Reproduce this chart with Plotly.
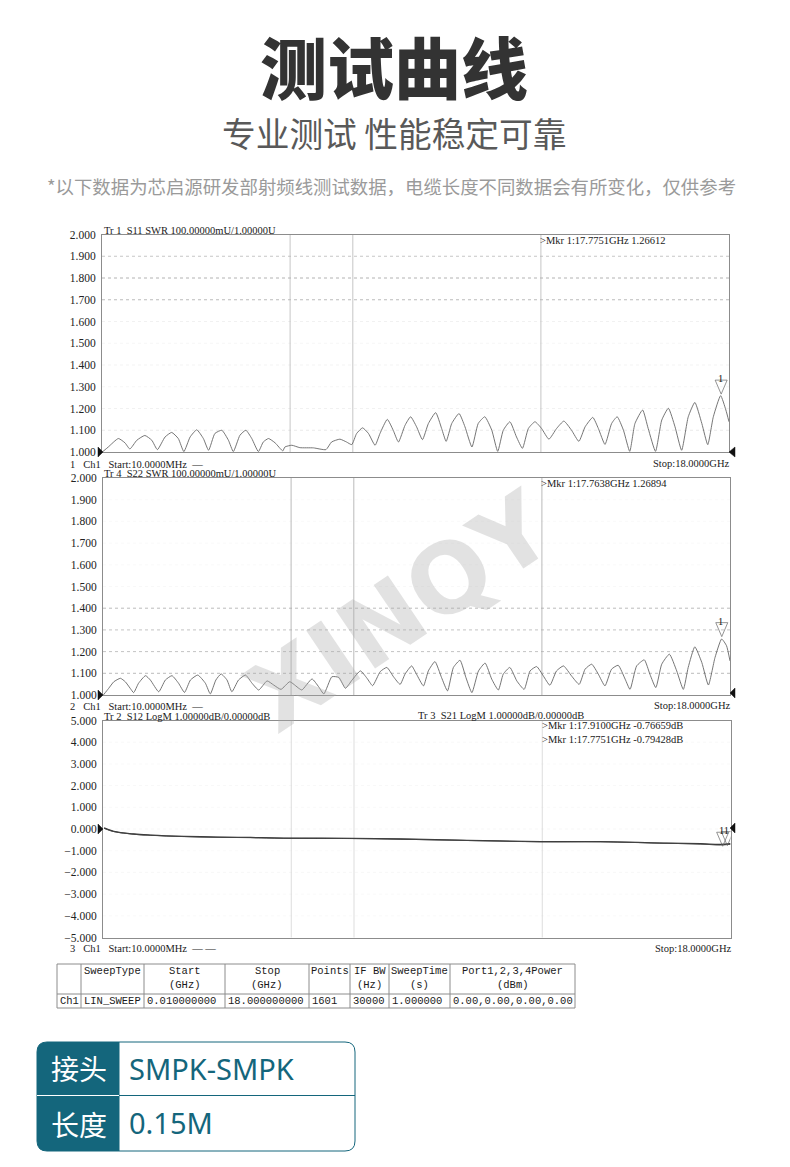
import plotly.graph_objects as go

W = 790
H = 1167

# traces
s11_ghz = [0.01,0.18,0.47,0.66,0.80,1.00,1.23,1.43,1.59,1.81,2.00,2.19,2.35,2.53,2.72,2.91,3.06,3.24,3.44,3.63,3.77,3.96,4.13,4.30,4.49,4.63,4.78,4.97,5.19,5.25,5.45,5.68,6.07,6.43,6.59,6.83,7.02,7.17,7.31,7.48,7.65,7.84,7.98,8.19,8.36,8.51,
           8.70,8.86,9.03,9.20,9.37,9.58,9.75,9.88,10.04,10.25,10.42,10.62,10.80,10.99,11.19,11.36,11.52,11.71,11.90,12.07,12.24,12.43,12.62,12.83,13.05,13.26,13.48,13.69,13.87,14.09,14.25,14.44,14.63,14.79,14.97,15.15,15.30,15.52,15.68,15.89,16.07,16.26,16.45,16.64,16.83,17.02,17.22,17.39,17.55,17.76,17.91,18.0]
s11_swr = [1.0,1.023,1.062,1.042,1.014,1.054,1.076,1.054,1.011,1.069,1.090,1.062,1.002,1.069,1.102,1.062,1.008,1.085,1.100,1.054,1.002,1.077,1.100,1.062,1.002,1.046,1.062,1.042,1.005,1.023,1.031,1.020,1.019,1.011,1.046,1.059,1.046,1.034,1.085,1.111,1.085,1.031,1.085,1.150,1.100,1.046,
           1.123,1.162,1.116,1.057,1.131,1.181,1.108,1.049,1.131,1.177,1.116,1.023,1.131,1.162,1.100,1.003,1.100,1.139,1.069,1.017,1.108,1.139,1.108,1.059,1.108,1.142,1.100,1.049,1.116,1.159,1.108,1.035,1.131,1.162,1.100,1.003,1.131,1.193,1.108,1.003,1.147,1.201,1.116,1.008,1.162,1.228,1.131,1.034,1.162,1.259,1.193,1.139]

s22_ghz = [0.01,0.16,0.31,0.50,0.64,0.78,0.88,1.02,1.22,1.36,1.60,1.79,1.98,2.17,2.34,2.51,2.72,2.94,3.08,3.24,3.39,3.56,3.70,3.89,4.09,4.28,4.47,4.71,4.90,5.11,5.36,5.62,5.71,6.00,6.19,6.34,6.57,6.77,6.96,7.15,7.39,7.58,7.74,7.96,8.15,8.34,
           8.53,8.67,8.86,9.00,9.20,9.34,9.53,9.72,9.89,10.06,10.25,10.42,10.59,10.78,10.97,11.16,11.35,11.49,11.68,11.88,12.09,12.26,12.45,12.64,12.83,13.02,13.22,13.45,13.67,13.84,14.03,14.22,14.41,14.60,14.79,14.99,15.13,15.32,15.54,15.70,15.87,16.04,16.26,16.47,16.66,16.80,16.99,17.19,17.38,17.57,17.76,17.90,18.0]
s22_swr = [1.0,1.03,1.061,1.077,1.061,1.031,1.011,1.054,1.089,1.069,1.015,1.069,1.089,1.054,1.012,1.069,1.092,1.054,1.005,1.069,1.097,1.069,1.015,1.069,1.092,1.054,1.023,1.065,1.046,1.026,1.061,1.031,1.023,1.074,1.038,1.005,1.084,1.081,1.031,1.069,1.111,1.077,1.043,1.108,1.127,1.084,
           1.049,1.096,1.134,1.096,1.042,1.111,1.154,1.080,1.019,1.127,1.160,1.080,1.011,1.111,1.147,1.073,1.023,1.096,1.127,1.065,1.026,1.111,1.131,1.088,1.045,1.111,1.134,1.088,1.049,1.119,1.142,1.096,1.042,1.119,1.137,1.073,1.026,1.134,1.162,1.096,1.034,1.142,1.188,1.111,1.026,1.127,1.222,1.150,1.046,1.173,1.258,1.227,1.157]

s21_ghz = [0.03,0.31,0.88,1.36,2.32,3.27,4.23,5.19,7.10,8.54,10.44,12.55,14.27,16.18,17.14,17.71,18.0]
s21_db = [0.05,-0.11,-0.23,-0.28,-0.34,-0.37,-0.39,-0.42,-0.43,-0.46,-0.52,-0.58,-0.58,-0.65,-0.68,-0.71,-0.68]
s12_db = [0.03,-0.12,-0.24,-0.29,-0.35,-0.38,-0.40,-0.43,-0.44,-0.47,-0.53,-0.59,-0.59,-0.66,-0.69,-0.74,-0.70]

swr_ticks = [2.0,1.9,1.8,1.7,1.6,1.5,1.4,1.3,1.2,1.1,1.0]
db_ticks = [5,4,3,2,1,0,-1,-2,-3,-4,-5]
vgrid_ghz = [5.4,7.2,12.6]

# how strong each printed gridline came out
grid1 = {1.9:"#b8b8b8",1.8:"#a0a0a0",1.7:"#aaaaaa",1.6:"#eeeeee",1.5:"#f4f4f4",1.4:"#f0f0f0",1.3:"#f4f4f4",1.2:"#eeeeee",1.1:"#e4e4e4"}
grid2 = {1.9:"#f8f8f8",1.8:"#f8f8f8",1.7:"#f8f8f8",1.6:"#f8f8f8",1.5:"#f6f6f6",1.4:"#aaaaaa",1.3:"#b4b4b4",1.2:"#b4b4b4",1.1:"#aaaaaa"}
grid3 = {4:"#f6f6f6",3:"#f8f8f8",2:"#f5f5f5",1:"#f8f8f8",0:"#f5f5f5",-1:"#f8f8f8",-2:"#f5f5f5",-3:"#f8f8f8",-4:"#f8f8f8"}

table_head = ["", "SweepType", "Start<br>(GHz)", "Stop<br>(GHz)", "Points", "IF BW<br>(Hz)", "SweepTime<br>(s)", "Port1,2,3,4Power<br>(dBm)"]
table_row = ["Ch1", "LIN_SWEEP", "0.010000000", "18.000000000", "1601", "30000", "1.000000", "0.00,0.00,0.00,0.00"]
table_cols = [24,63,81,84,41,39,61,125]

TEAL = "#14667c"
SERIF = "Liberation Serif"
MONO = "Liberation Mono"
CJK = "Noto Sans CJK SC"


def xdom(a, b):
    return [a / W, b / W]


def ydom(top, bottom):
    return [1 - bottom / H, 1 - top / H]


fig = go.Figure()

fig.add_trace(go.Scatter(x=s11_ghz, y=s11_swr, mode="lines", xaxis="x", yaxis="y",
                         line=dict(color="#666666", width=0.9, shape="spline", smoothing=0.5)))
fig.add_trace(go.Scatter(x=s22_ghz, y=s22_swr, mode="lines", xaxis="x2", yaxis="y2",
                         line=dict(color="#666666", width=0.9, shape="spline", smoothing=0.5)))
fig.add_trace(go.Scatter(x=s21_ghz, y=s21_db, mode="lines", xaxis="x3", yaxis="y3",
                         line=dict(color="#333333", width=1.3, shape="spline")))
fig.add_trace(go.Scatter(x=s21_ghz, y=s12_db, mode="lines", xaxis="x3", yaxis="y3",
                         line=dict(color="#444444", width=1, shape="spline")))

axis_common = dict(showgrid=False, zeroline=False, showline=True, mirror=True, linecolor="#8c8c8c", linewidth=1)
x_common = dict(axis_common, range=[0, 18], showticklabels=False, ticks="")
y_common = dict(axis_common, ticks="", ticklabelstandoff=3,
                tickfont=dict(family=SERIF, size=11.5, color="#222222"), tickformat=".3f")

layout_axes = dict(
    xaxis=dict(x_common, domain=xdom(102, 729), anchor="y"),
    yaxis=dict(y_common, domain=ydom(234.5, 452), range=[1, 2], tickvals=swr_ticks, anchor="x"),
    xaxis2=dict(x_common, domain=xdom(103, 730), anchor="y2"),
    yaxis2=dict(y_common, domain=ydom(478, 695), range=[1, 2], tickvals=swr_ticks, anchor="x2"),
    xaxis3=dict(x_common, domain=xdom(103, 730.5), anchor="y3"),
    yaxis3=dict(y_common, domain=ydom(720.5, 937.5), range=[-5, 5], tickvals=db_ticks, anchor="x3"),
    # full page axis, one unit is one pixel, only for the page furniture
    xaxis4=dict(domain=[0, 1], range=[0, W], visible=False, anchor="y4"),
    yaxis4=dict(domain=[0, 1], range=[H, 0], visible=False, anchor="x4"),
)

shapes = []
for n, levels in (("", grid1), ("2", grid2), ("3", grid3)):
    for lev, col in levels.items():
        shapes.append(dict(type="line", xref=f"x{n} domain", x0=0, x1=1, yref=f"y{n}", y0=lev, y1=lev,
                           line=dict(color=col, width=0.8, dash="dot"), layer="below"))
    for g in vgrid_ghz:
        shapes.append(dict(type="line", xref=f"x{n}", x0=g, x1=g, yref=f"y{n} domain", y0=0, y1=1,
                           line=dict(color={"": "#b8b8b8", "2": "#a8a8a8", "3": "#d4d4d4"}[n], width=0.8), layer="below"))


def tri(xr, yr, xa, ya, path, fill="rgba(0,0,0,0)", col="#666666"):
    shapes.append(dict(type="path", xref=xr, yref=yr, xsizemode="pixel", ysizemode="pixel",
                       xanchor=xa, yanchor=ya, path=path, fillcolor=fill, line=dict(color=col, width=0.7)))


DOWN = "M-6,14 L6,14 L0,0 Z"
tri("x", "y", 17.7751, 1.26612, DOWN)
tri("x2", "y2", 17.7638, 1.26894, DOWN)
tri("x3", "y3", 17.91, -0.76659, DOWN)
tri("x3", "y3", 17.7751, -0.79428, DOWN)


def page_path(path, fill="rgba(0,0,0,0)", col="#111111", width=0.5):
    shapes.append(dict(type="path", xref="x4", yref="y4", path=path, fillcolor=fill, line=dict(color=col, width=width)))


def page_line(x0, y0, x1, y1, col, width=1):
    shapes.append(dict(type="line", xref="x4", yref="y4", x0=x0, x1=x1, y0=y0, y1=y1, line=dict(color=col, width=width)))


# reference level arrows sit outside the plot areas
page_path("M98,447 L103,452 L98,457 Z", "#111111")
page_path("M735,447 L729,452 L735,457 Z", "#111111")
page_path("M98,690 L103,695 L98,700 Z", "#111111")
page_path("M735,688 L730,693 L735,698 Z", "#111111")
page_path("M98,824 L103,829 L98,834 Z", "#111111")
page_path("M735,823 L730,828 L735,833 Z", "#111111")

# connector box
page_path("M119,1042 L47,1042 Q37,1042 37,1052 L37,1141 Q37,1151 47,1151 L119,1151 Z", TEAL, TEAL, 1)
page_path("M119,1042 L345,1042 Q355,1042 355,1052 L355,1141 Q355,1151 345,1151 L119,1151", col=TEAL, width=1)
page_line(37, 1095.5, 119, 1095.5, "white")
page_line(119, 1095.5, 355, 1095.5, TEAL)

annots = []

# watermark goes first so the printout text stays on top of it
annots.append(dict(x=400, y=612, xref="x4", yref="y4", text="<b>XINQY</b>", showarrow=False,
                   textangle=-34, xanchor="center", yanchor="middle",
                   font=dict(family="DejaVu Sans", size=96, color="rgba(170,170,170,0.34)")))


def txt(x, y, s, size=10.5, col="#1a1a1a", fam=SERIF, anchor="left", **kw):
    annots.append(dict(x=x, y=y, xref="x4", yref="y4", text=s.replace(" ", "\u00a0"), showarrow=False,
                       xanchor=anchor, yanchor="middle", align=anchor,
                       font=dict(family=fam, size=size, color=col, **kw)))


txt(393.5, 64, "测试曲线", 67, "#333333", CJK, "center", weight=900)
txt(393.5, 132, "专业测试 性能稳定可靠", 33.7, "#595959", CJK, "center")
txt(391.5, 186, "*以下数据为芯启源研发部射频线测试数据，电缆长度不同数据会有所变化，仅供参考", 18.4, "#9a9a9a", CJK, "center")

txt(102, 230.5, "Tr 1  S11 SWR 100.00000mU/1.00000U")
txt(538, 240, ">Mkr 1:17.7751GHz 1.26612")
txt(68, 464, "1   Ch1   Start:10.0000MHz  —")
txt(731, 463, "Stop:18.0000GHz", anchor="right")
txt(720.5, 378, "1", anchor="center")

txt(102, 473.5, "Tr 4  S22 SWR 100.00000mU/1.00000U")
txt(539, 483.5, ">Mkr 1:17.7638GHz 1.26894")
txt(68, 706, "2   Ch1   Start:10.0000MHz  —")
txt(732, 705.5, "Stop:18.0000GHz", anchor="right")
txt(720.5, 621, "1", anchor="center")

txt(102, 716.5, "Tr 2  S12 LogM 1.00000dB/0.00000dB")
txt(416, 715.5, "Tr 3  S21 LogM 1.00000dB/0.00000dB")
txt(540, 725, ">Mkr 1:17.9100GHz -0.76659dB")
txt(540, 739, ">Mkr 1:17.7751GHz -0.79428dB")
txt(68, 948, "3   Ch1   Start:10.0000MHz  — —")
txt(733, 948, "Stop:18.0000GHz", anchor="right")
txt(724, 830, "11", anchor="center")

txt(79, 1068, "接头", 28, "white", CJK, "center")
txt(79, 1124, "长度", 28, "white", CJK, "center")
txt(127, 1068, "SMPK-SMPK", 29, TEAL, "Noto Sans")
txt(127, 1122, "0.15M", 29, TEAL, "Noto Sans")

# sweep table, drawn on the page axis
TOP, MID, BOT = 964, 994, 1008
left = 57
edges = [left]
for c in table_cols:
    edges.append(edges[-1] + c)
for y in (TOP, MID, BOT):
    page_line(edges[0], y, edges[-1], y, "#8c8c8c")
for e in edges:
    page_line(e, TOP, e, BOT, "#8c8c8c")
for i, head in enumerate(table_head):
    mid = (edges[i] + edges[i + 1]) / 2
    if "<br>" in head:
        top_line, low_line = head.split("<br>")
        txt(mid, 971, top_line, 10.5, fam=MONO, anchor="center")
        txt(mid, 985, low_line, 10.5, fam=MONO, anchor="center")
    elif head:
        txt(mid, 971, head, 10.5, fam=MONO, anchor="center")
for i, val in enumerate(table_row):
    txt(edges[i] + 1, 1001, val, 10.5, fam=MONO)

fig.update_layout(width=W, height=H, margin=dict(l=0, r=0, t=0, b=0, autoexpand=False), autosize=False,
                  paper_bgcolor="white", plot_bgcolor="rgba(0,0,0,0)", showlegend=False,
                  shapes=shapes, annotations=annots, **layout_axes)

fig.write_html("out.html", config=dict(displayModeBar=False),
               post_script="document.body.style.margin='0';document.documentElement.style.overflow='hidden';")
